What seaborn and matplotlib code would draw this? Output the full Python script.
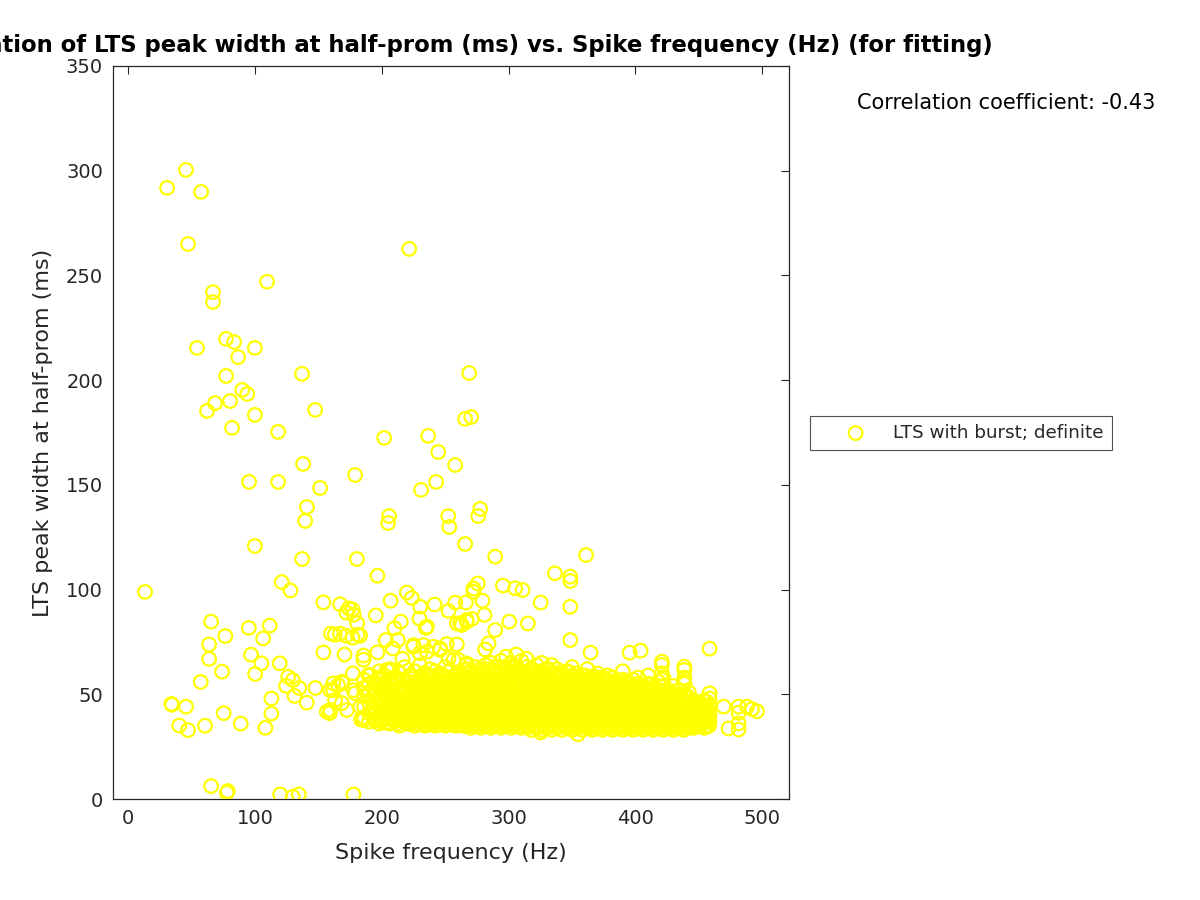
import matplotlib
matplotlib.use("Agg")
import matplotlib.pyplot as plt
import seaborn as sns
import pandas as pd

# ---------------- data ----------------
# isolated / sparse points (Spike frequency Hz, LTS peak width ms)
sparse_x = [30.8, 45.7, 57.6, 47.3, 67, 67, 54.4, 77.3, 83.6, 86.8, 77.3, 90, 94, 80.4, 68.6,
            62.3, 82, 100, 100, 109.6, 118.3, 95.4, 118.3, 100, 137.2, 138, 147.5, 151.4, 141,
            139.6, 137.2, 221.6, 201.9, 236.6, 244.5, 242.9, 231, 257.9, 268.9, 265.7, 270.5,
            252.4, 253.2, 265.7, 276, 277.6, 205.8, 205, 179, 13.4, 180.4, 361, 289.4,
            65.5, 63.9, 63.9, 76.7, 95.2, 111.7, 106.5, 97, 105.1, 100.2, 74.1, 57.3, 119.6,
            126.2, 129.9, 124.6, 134.9, 147.7, 131.2, 140.9, 113, 113, 108.3, 88.8, 75.4, 60.7,
            34.7, 34.2, 45.7, 40.4, 47.3, 65.5, 77.8, 78.6, 119.9, 129.9, 134.6, 177.7,
            121.2, 128, 196.6, 154, 167.2, 172, 174, 177, 178, 180.6, 195.3, 207, 219.8, 223.7,
            241.6, 160, 163, 167, 172, 177, 181, 183, 159, 183.7, 177.2, 170.6, 154, 185.6,
            185.6, 196.6, 203.2, 208.7, 212.7, 210, 215, 234.7, 229.7, 225, 216.3, 161.7, 165.6,
            169.3, 177.7, 168.5, 172.5, 189.5, 336.5, 348.6, 348.6, 348.6, 348.6, 325.2, 295.5,
            305.2, 311, 300.5, 315.2, 289.4, 364.6, 395.4, 404, 458.4, 495.8, 491.8, 487.9,
            469.5, 481.3, 481.3, 481.3, 481.3, 473.4, 458.4, 458.4, 354.6, 325.2,
            230.3, 252.6, 257.9, 266.3, 272.3, 275.7, 272.3, 279.4, 281, 259.2, 263.1, 267, 271,
            235, 225, 232.8, 240.7, 251.3, 259.2, 246, 281.5, 284.2, 266.6, 252.6, 260.5,
            230, 235.6, 246, 256.6, 267, 235.6, 261.8, 267, 190.9, 204, 208, 161.9, 168.5,
            159.3, 163.2, 159.3, 179, 183, 156.7, 185.6, 198.7,
            420.8, 420.8, 420.8, 420.8, 438.5, 438.5, 438.5, 438.5, 458.4, 458.4, 458.4]
sparse_y = [291.8, 300.4, 289.9, 265, 242, 237.3, 215.4, 219.7, 218.2, 211, 202, 195.3, 193.4, 190, 189,
            185.3, 177.2, 215.4, 183.4, 247, 175.3, 151.4, 151.4, 120.8, 203, 160, 185.8, 148.5, 139.4,
            132.8, 114.6, 262.7, 172.4, 173.4, 165.7, 151.4, 147.6, 159.5, 203.4, 181.5, 182.4,
            135.1, 129.9, 121.8, 135.1, 138.5, 135.1, 131.8, 154.7, 98.9, 114.6, 116.5, 115.7,
            84.7, 73.8, 66.9, 77.8, 81.7, 82.8, 76.7, 68.9, 64.8, 59.7, 60.8, 55.9, 64.8,
            58.3, 56.8, 54, 53, 53, 49.2, 46, 48, 40.8, 34, 36, 41, 35,
            45, 45.4, 44.1, 35.1, 32.9, 6.2, 3, 3.8, 2.2, 1.1, 2.2, 2.2,
            103.6, 99.6, 106.6, 93.9, 93, 89, 91, 90.5, 88, 83.9, 87.7, 94.7, 98.6, 96,
            92.9, 79, 78.5, 79, 78, 77, 78.5, 78, 41, 38, 60, 69, 70, 68.5,
            66.5, 70, 75.9, 71.9, 75.9, 81.5, 84.7, 81.8, 86.2, 72.7, 66.9, 52, 54.4,
            55.4, 52, 45.8, 42.5, 59.2, 107.8, 106.2, 104.1, 91.8, 75.9, 93.8, 101.9,
            100.6, 99.8, 84.7, 83.8, 80.7, 69.9, 69.9, 70.8, 71.8, 41.9, 42.9, 44.1,
            44.1, 44.1, 41.2, 36.1, 33.2, 33.7, 50.5, 48, 30.9, 31.8,
            91.8, 89.8, 93.8, 93.8, 99, 102.9, 100.5, 94.7, 87.9, 83.8, 83.1, 85.5, 86,
            81.8, 73.5, 73.5, 72.7, 74, 73.8, 71.9, 71.4, 74.3, 64, 67.1, 66.4,
            69.6, 70.3, 71.2, 66.4, 64.7, 82.3, 83.9, 84.7, 59.2, 61.6, 61.6, 55.2, 56,
            52, 47.3, 42.5, 50.5, 44, 41.7, 37.7, 37.7,
            65.6, 64, 60, 57, 63.2, 61.6, 58, 55, 44, 40, 37]

# dense band, first set of columns: one x per column, with the y values read in it
band_x = [186, 190, 194, 198, 202, 206, 210, 214, 218, 222, 226, 230, 234, 238, 242, 246, 250,
          254, 258, 262, 266, 270, 274, 278, 282, 286, 290, 294, 298, 302, 306, 310, 314, 318,
          322, 326, 330, 334, 338, 342, 346, 350, 354, 358, 362, 366, 370, 374, 378, 382, 386,
          390, 394, 398, 402, 406, 410, 414, 418, 422, 426, 430, 434, 438, 442, 446, 450, 454, 458]
band_y = [
    [39, 44, 49, 53, 57],
    [37, 41, 46, 50, 55, 59],
    [38, 43, 47, 52, 56],
    [36, 40, 44, 49, 53, 58, 61],
    [38, 42, 46, 51, 55, 59],
    [36, 39, 43, 48, 52, 57, 62],
    [37, 41, 45, 49, 54, 58],
    [35, 39, 43, 47, 51, 56, 60],
    [37, 40, 44, 48, 53, 57, 63],
    [36, 38, 42, 46, 50, 54, 59],
    [35, 39, 43, 47, 52, 56, 61],
    [37, 40, 44, 48, 51, 55, 58, 64],
    [35, 38, 42, 46, 49, 53, 57, 60],
    [36, 39, 43, 47, 50, 54, 59, 62],
    [35, 37, 41, 45, 48, 52, 56, 61],
    [36, 39, 42, 46, 50, 53, 57, 60],
    [35, 38, 41, 44, 48, 51, 55, 58, 63],
    [36, 39, 43, 47, 50, 54, 57, 61],
    [35, 37, 40, 44, 47, 51, 55, 59],
    [36, 39, 42, 46, 49, 53, 56, 60],
    [35, 38, 41, 45, 48, 52, 55, 58, 62],
    [34, 37, 40, 43, 47, 50, 54, 57, 61],
    [35, 38, 42, 45, 49, 52, 56, 59, 63],
    [34, 36, 40, 43, 47, 51, 54, 58, 62],
    [35, 38, 41, 45, 48, 52, 55, 59, 64],
    [34, 37, 40, 44, 47, 50, 54, 57, 61, 65],
    [35, 38, 42, 45, 49, 52, 56, 59, 63],
    [34, 36, 40, 43, 47, 50, 53, 57, 60, 66],
    [35, 38, 41, 45, 48, 52, 55, 59, 62, 68],
    [34, 37, 40, 44, 47, 51, 54, 58, 61, 65],
    [35, 38, 42, 45, 49, 52, 56, 60, 63, 69],
    [34, 36, 40, 43, 47, 50, 54, 57, 61, 66],
    [35, 38, 41, 45, 48, 52, 55, 59, 63, 67],
    [33, 37, 40, 44, 47, 51, 54, 58, 62],
    [34, 38, 41, 45, 48, 52, 56, 60, 64],
    [33, 36, 40, 43, 47, 50, 54, 57, 61, 65],
    [34, 37, 41, 44, 48, 51, 55, 58, 62],
    [33, 36, 39, 43, 46, 50, 53, 57, 60, 64],
    [34, 37, 41, 44, 48, 51, 55, 59, 62],
    [33, 36, 39, 43, 46, 50, 53, 56, 60],
    [34, 37, 40, 44, 47, 51, 54, 58, 61],
    [33, 35, 39, 42, 46, 49, 52, 56, 59, 63],
    [34, 37, 40, 44, 47, 51, 54, 57, 60],
    [33, 36, 39, 42, 46, 49, 53, 56, 59],
    [34, 37, 40, 44, 47, 50, 54, 57, 62],
    [33, 35, 38, 42, 45, 49, 52, 55, 58],
    [34, 37, 40, 43, 47, 50, 53, 57, 60],
    [33, 36, 39, 42, 45, 49, 52, 55, 58],
    [34, 37, 40, 43, 46, 50, 53, 56, 59],
    [33, 35, 38, 41, 45, 48, 51, 55, 58],
    [34, 37, 40, 43, 46, 49, 53, 56],
    [33, 35, 38, 41, 44, 48, 51, 54, 57, 61],
    [34, 36, 39, 42, 46, 49, 52, 55],
    [33, 35, 38, 41, 44, 47, 51, 54, 57],
    [34, 37, 40, 43, 46, 49, 52, 55, 58],
    [33, 35, 38, 41, 44, 47, 50, 54],
    [34, 36, 39, 42, 45, 48, 51, 55, 59],
    [33, 35, 38, 41, 44, 47, 50, 53],
    [34, 37, 40, 43, 46, 49, 52, 56],
    [33, 36, 38, 41, 44, 47, 51, 54, 58],
    [34, 37, 40, 43, 46, 49, 52],
    [33, 35, 38, 41, 44, 47, 50, 54],
    [34, 37, 40, 42, 45, 48, 52],
    [33, 35, 38, 41, 44, 47, 50, 56],
    [34, 37, 39, 42, 45, 48, 51],
    [34, 36, 39, 42, 44, 47],
    [35, 38, 41, 44, 46],
    [34, 37, 40, 43, 47],
    [35, 38, 41, 45],
]

# dense band, second (in-between) set of columns
band2_x = [196, 200, 204, 208, 212, 216, 220, 224, 228, 232, 236, 240, 244, 248, 252, 256, 260,
           264, 268, 272, 276, 280, 284, 288, 292, 296, 300, 304, 308, 312, 316, 320, 324, 328,
           332, 336, 340, 344, 348, 352, 356, 360, 364, 368, 372, 376, 380, 384, 388, 392, 396,
           400, 404, 408, 412, 416, 420, 424, 428, 432, 436, 440, 444, 448, 452, 456]
band2_y = [
    [37.5, 41.5, 45.5, 50.5, 54.5],
    [37, 42, 45, 48, 53, 57],
    [36.5, 40.5, 44.5, 50, 54],
    [38, 42.5, 46.5, 51, 55.5],
    [36, 39.5, 43.5, 47.5, 52.5, 56.5],
    [37.5, 41.5, 45.5, 49.5, 54],
    [36, 39, 43, 47.5, 51.5, 55.5],
    [37, 40.5, 44.5, 48.5, 53, 57.5],
    [36, 38.5, 42, 45.5, 49.5, 54],
    [36.5, 39.5, 43.5, 47, 51, 55.5, 59],
    [35.5, 37.5, 41, 45, 48.5, 52, 56],
    [36.5, 39.5, 43, 46.5, 50, 54, 58],
    [35.5, 38.5, 42.5, 46.5, 50.5, 54.5],
    [36.5, 40, 43.5, 47.5, 51.5, 55.5, 59],
    [35.5, 37.5, 42, 45.5, 49, 52.5, 56],
    [36.5, 40.5, 44, 48.5, 52, 55.5, 58.5],
    [35.5, 38.5, 42, 45.5, 49, 53, 57],
    [35, 37.5, 40.5, 44, 47.5, 51, 54.5, 58],
    [36, 39.5, 43, 46.5, 50, 53.5, 57, 60],
    [35, 38.5, 41.5, 45, 48.5, 51.5, 55, 58.5],
    [35.5, 37.5, 41, 44.5, 48.5, 52.5, 56, 60],
    [35, 38, 42.5, 46, 49.5, 53, 56.5, 61],
    [35.5, 39.5, 43, 46.5, 50, 53.5, 57.5, 62],
    [35, 37.5, 41, 44.5, 48.5, 51.5, 55.5, 59.5],
    [35.5, 39, 42.5, 46, 49.5, 53.5, 57, 61],
    [35, 37.5, 41.5, 45, 48.5, 52, 55.5, 59, 63],
    [35.5, 39, 42.5, 46, 49.5, 53, 56.5, 60],
    [35, 38.5, 42, 45.5, 49, 52.5, 56, 59.5, 63.5],
    [35.5, 37.5, 41.5, 44.5, 48, 51.5, 55, 58.5, 62],
    [35, 38.5, 42, 45.5, 49.5, 53, 56.5, 60],
    [34.5, 36.5, 40, 43, 46.5, 50, 53.5, 57, 61],
    [35, 38.5, 42.5, 46, 50, 53.5, 57.5, 61.5],
    [34.5, 37.5, 41.5, 45, 48.5, 52, 55.5, 59],
    [35, 38.5, 42, 45.5, 49.5, 53, 56.5, 60],
    [34.5, 37.5, 41, 44.5, 48, 51.5, 55, 58.5, 62],
    [35, 38.5, 42.5, 46, 49.5, 53, 56.5, 60],
    [34.5, 37.5, 41, 44.5, 48, 51.5, 55, 58],
    [35, 38.5, 42, 45.5, 49, 52.5, 56],
    [34.5, 36.5, 40.5, 43.5, 47.5, 50.5, 54, 57.5, 60.5],
    [35, 38.5, 42, 45.5, 49, 52.5, 55.5, 58.5],
    [34.5, 37.5, 41, 44, 47.5, 51, 54.5, 57.5],
    [35, 38.5, 42, 45.5, 48.5, 52, 55.5, 59],
    [34, 36.5, 40, 43.5, 47, 50.5, 53.5, 56.5],
    [35, 38.5, 41.5, 45, 48.5, 51.5, 55, 58.5],
    [34, 37.5, 40.5, 44, 47, 50.5, 53.5, 56.5],
    [35, 38.5, 41.5, 44.5, 48, 51.5, 54.5, 57.5],
    [34, 36.5, 39.5, 43, 46.5, 49.5, 53, 56],
    [35, 38.5, 41.5, 44.5, 47.5, 51, 54.5],
    [34, 36.5, 39.5, 42.5, 45.5, 49.5, 52.5, 55.5],
    [34.5, 37.5, 40.5, 43.5, 47, 50, 53.5, 56],
    [34, 36.5, 40, 42.5, 45.5, 48.5, 52, 55],
    [34.5, 37.5, 39.5, 44.5, 47.5, 50.5, 53.5],
    [34, 36.5, 39, 42, 45.5, 48, 51, 54],
    [34.5, 37.5, 40.5, 43.5, 46.5, 49.5, 53],
    [34, 36.5, 39.5, 42.5, 45.5, 48.5, 51.5, 54.5],
    [34.5, 37.5, 40.5, 43.5, 46.5, 49.5, 52],
    [34, 36.5, 39, 42, 45, 48, 51, 53.5],
    [34.5, 37.5, 40.5, 43.5, 46.5, 49.5],
    [34, 36.5, 39, 42, 45, 48, 51],
    [34.5, 37.5, 40.5, 43.5, 46.5, 49],
    [34, 36.5, 39, 42, 45, 48.5],
    [34.5, 37.5, 40.5, 43.5, 46.5, 49.5],
    [34.5, 36.5, 39.5, 42.5, 45],
    [35, 37.5, 40.5, 43, 46],
    [35.5, 38.5, 41.5, 44.5],
    [34.5, 37, 40, 43.5, 46.5],
]

x_ticks = [0, 100, 200, 300, 400, 500]
y_ticks = [0, 50, 100, 150, 200, 250, 300, 350]
series_label = "LTS with burst; definite"
title_text = ("Correlation of LTS peak width at half-prom (ms) vs. "
              "Spike frequency (Hz) (for fitting)")
corr_text = "Correlation coefficient: -0.43"

# ---------------- build table ----------------
xs = list(sparse_x)
ys = list(sparse_y)
for cols_x, cols_y in ((band_x, band_y), (band2_x, band2_y)):
    for bx, col in zip(cols_x, cols_y):
        for v in col:
            xs.append(bx)
            ys.append(v)
df = pd.DataFrame({"freq": xs, "width": ys})

# ---------------- plot ----------------
sns.set_theme(style="white")
plt.rcParams["font.family"] = ["DejaVu Sans"]
dark = "#262626"

fig = plt.figure(figsize=(12, 9), dpi=100)
ax = fig.add_axes([0.094, 0.1122, 0.5635, 0.8145])

sns.scatterplot(data=df, x="freq", y="width", ax=ax, marker="o", s=95,
                facecolor="none", edgecolor="#ffff00", linewidth=1.6,
                label=series_label, zorder=3)
for c in ax.collections:
    c.set_facecolor("none")
    c.set_edgecolor("#ffff00")

ax.set_xlim(-12, 521)
ax.set_ylim(0, 350)
ax.set_xticks(x_ticks)
ax.set_yticks(y_ticks)
ax.tick_params(direction="in", length=6, width=0.8, top=True, right=True,
               labelsize=14, colors=dark, pad=7)
for sp in ax.spines.values():
    sp.set_color(dark)
    sp.set_linewidth(0.9)

ax.set_xlabel("Spike frequency (Hz)", fontsize=16, color=dark, labelpad=11)
ax.set_ylabel("LTS peak width at half-prom (ms)", fontsize=16, color=dark, labelpad=9)
ax.set_title(title_text, fontsize=16.4, fontweight="bold", color="black", pad=10)

leg = ax.legend(loc="center left", bbox_to_anchor=(0.675, 0.519),
                bbox_transform=fig.transFigure, frameon=True, fancybox=False,
                fontsize=13.2, handlelength=4.1, handletextpad=0.0,
                borderpad=0.44, borderaxespad=0)
leg.get_frame().set_edgecolor(dark)
leg.get_frame().set_linewidth(0.8)
for h in leg.legend_handles:
    h.set_facecolor("none")
    h.set_edgecolor("#ffff00")

fig.text(0.714, 0.8856, corr_text, fontsize=15, color="black", va="center", ha="left")

fig.savefig("out.png", dpi=100, facecolor="white")
